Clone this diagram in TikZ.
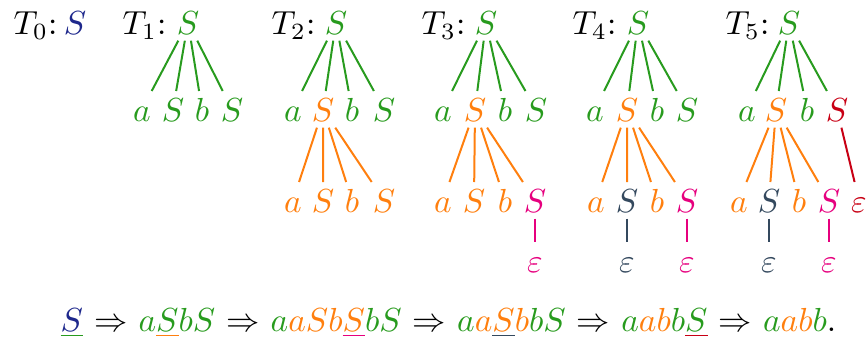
\documentclass[tikz,border=0pt]{standalone}
\usepackage{xcolor}

\definecolor{tgreen}{RGB}{40,155,30}
\definecolor{torange}{RGB}{255,127,14}
\definecolor{tpink}{RGB}{230,0,126}
\definecolor{tslate}{RGB}{52,73,94}
\definecolor{tred}{RGB}{200,0,20}
\definecolor{tblue}{RGB}{30,40,140}

\newcommand{\cgreen}[1]{\textcolor{tgreen}{#1}}
\newcommand{\corange}[1]{\textcolor{torange}{#1}}
\newcommand{\cblue}[1]{\textcolor{tblue}{#1}}
\newcommand{\uline}[2]{\textcolor{#1}{\underline{#2}}}

\tikzset{
  sym/.style={anchor=base,inner sep=1.8pt,text height=7pt,text depth=0pt},
  lbl/.style={anchor=base west,inner sep=0pt},
  br/.style={line width=0.6pt}
}

\begin{document}
\begin{tikzpicture}[x=0.3pt,y=-0.3pt]
    \useasboundingbox (0,0) rectangle (868,341);

    % T0
    \node[lbl] (l0) at (13,34) {$T_0$:};
    \node[sym,tblue] (r0) at (75,34) {$S$};

    % T1
    \node[lbl] (l1) at (122,34) {$T_1$:};
    \node[sym,tgreen] (r1) at (188,34) {$S$};
    \node[sym,tgreen] (t1a) at (142,121) {$a$};
    \node[sym,tgreen] (t1s) at (173,121) {$S$};
    \node[sym,tgreen] (t1b) at (202,121) {$b$};
    \node[sym,tgreen] (t1t) at (232,121) {$S$};
    \draw[br,tgreen] (r1) -- (t1a) (r1) -- (t1s) (r1) -- (t1b) (r1) -- (t1t);

    % T2
    \node[lbl] (l2) at (271,34) {$T_2$:};
    \node[sym,tgreen] (r2) at (336,34) {$S$};
    \node[sym,tgreen] (t2a) at (293,121) {$a$};
    \node[sym,torange] (t2s) at (323,121) {$S$};
    \node[sym,tgreen] (t2b) at (352,121) {$b$};
    \node[sym,tgreen] (t2t) at (384,121) {$S$};
    \draw[br,tgreen] (r2) -- (t2a) (r2) -- (t2s) (r2) -- (t2b) (r2) -- (t2t);
    \node[sym,torange] (t2sa) at (293,212) {$a$};
    \node[sym,torange] (t2ss) at (323,212) {$S$};
    \node[sym,torange] (t2sb) at (352,212) {$b$};
    \node[sym,torange] (t2st) at (384,212) {$S$};
    \draw[br,torange] (t2s) -- (t2sa) (t2s) -- (t2ss) (t2s) -- (t2sb) (t2s) -- (t2st);

    % T3
    \node[lbl] (l3) at (421,34) {$T_3$:};
    \node[sym,tgreen] (r3) at (486,34) {$S$};
    \node[sym,tgreen] (t3a) at (443,121) {$a$};
    \node[sym,torange] (t3s) at (475,121) {$S$};
    \node[sym,tgreen] (t3b) at (505,121) {$b$};
    \node[sym,tgreen] (t3t) at (536,121) {$S$};
    \draw[br,tgreen] (r3) -- (t3a) (r3) -- (t3s) (r3) -- (t3b) (r3) -- (t3t);
    \node[sym,torange] (t3sa) at (443,212) {$a$};
    \node[sym,torange] (t3ss) at (474,212) {$S$};
    \node[sym,torange] (t3sb) at (505,212) {$b$};
    \node[sym,tpink] (t3st) at (535,212) {$S$};
    \draw[br,torange] (t3s) -- (t3sa) (t3s) -- (t3ss) (t3s) -- (t3sb) (t3s) -- (t3st);
    \node[sym,tpink] (t3e) at (535,272) {$\varepsilon$};
    \draw[br,tpink] (t3st) -- (t3e);

    % T4
    \node[lbl] (l4) at (572,34) {$T_4$:};
    \node[sym,tgreen] (r4) at (638,34) {$S$};
    \node[sym,tgreen] (t4a) at (595,121) {$a$};
    \node[sym,torange] (t4s) at (627,121) {$S$};
    \node[sym,tgreen] (t4b) at (657,121) {$b$};
    \node[sym,tgreen] (t4t) at (687,121) {$S$};
    \draw[br,tgreen] (r4) -- (t4a) (r4) -- (t4s) (r4) -- (t4b) (r4) -- (t4t);
    \node[sym,torange] (t4sa) at (596,212) {$a$};
    \node[sym,tslate] (t4ss) at (627,212) {$S$};
    \node[sym,torange] (t4sb) at (657,212) {$b$};
    \node[sym,tpink] (t4st) at (687,212) {$S$};
    \draw[br,torange] (t4s) -- (t4sa) (t4s) -- (t4ss) (t4s) -- (t4sb) (t4s) -- (t4st);
    \node[sym,tslate] (t4e) at (627,272) {$\varepsilon$};
    \node[sym,tpink] (t4f) at (687,272) {$\varepsilon$};
    \draw[br,tslate] (t4ss) -- (t4e);
    \draw[br,tpink] (t4st) -- (t4f);

    % T5
    \node[lbl] (l5) at (725,34) {$T_5$:};
    \node[sym,tgreen] (r5) at (789,34) {$S$};
    \node[sym,tgreen] (t5a) at (747,121) {$a$};
    \node[sym,torange] (t5s) at (776,121) {$S$};
    \node[sym,tgreen] (t5b) at (807,121) {$b$};
    \node[sym,tred] (t5t) at (837,121) {$S$};
    \draw[br,tgreen] (r5) -- (t5a) (r5) -- (t5s) (r5) -- (t5b) (r5) -- (t5t);
    \node[sym,torange] (t5sa) at (739,212) {$a$};
    \node[sym,tslate] (t5ss) at (769,212) {$S$};
    \node[sym,torange] (t5sb) at (799,212) {$b$};
    \node[sym,tpink] (t5st) at (829,212) {$S$};
    \draw[br,torange] (t5s) -- (t5sa) (t5s) -- (t5ss) (t5s) -- (t5sb) (t5s) -- (t5st);
    \node[sym,tred] (t5te) at (859,212) {$\varepsilon$};
    \draw[br,tred] (t5t) -- (t5te);
    \node[sym,tslate] (t5e) at (769,272) {$\varepsilon$};
    \node[sym,tpink] (t5f) at (829,272) {$\varepsilon$};
    \draw[br,tslate] (t5ss) -- (t5e);
    \draw[br,tpink] (t5st) -- (t5f);

    % derivation
    \node[lbl] (deriv) at (60,331) {$\uline{tgreen}{\cblue{S}}$ $\Rightarrow$
        $\cgreen{a}\uline{torange}{\cgreen{S}}\cgreen{bS}$ $\Rightarrow$
        $\cgreen{a}\corange{aSb}\uline{tpink}{\corange{S}}\cgreen{bS}$ $\Rightarrow$
        $\cgreen{a}\corange{a}\uline{tslate}{\corange{S}}\corange{b}\cgreen{bS}$ $\Rightarrow$
        $\cgreen{a}\corange{ab}\cgreen{b}\uline{tred}{\cgreen{S}}$ $\Rightarrow$
        $\cgreen{a}\corange{ab}\cgreen{b}$.};
\end{tikzpicture}
\end{document}
